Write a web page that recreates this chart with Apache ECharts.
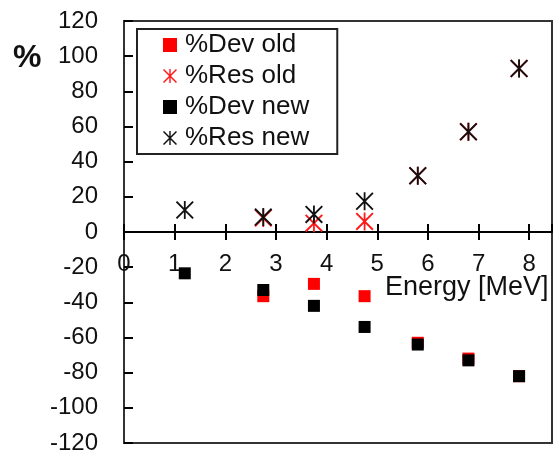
<!DOCTYPE html>
<html>
<head>
<meta charset="utf-8">
<script src="https://cdn.jsdelivr.net/npm/echarts@6/dist/echarts.min.js"></script>
<style>html,body{margin:0;padding:0;background:#fff}#c{width:553px;height:457px}</style>
</head>
<body>
<div id="c"></div>
<script>
const energies = [1.2, 2.75, 3.75, 4.75, 5.8, 6.8, 7.8];
const devOld = [null, -36.5, -29.5, -36.5, -63, -72, -82];
const resOld = [null, 8, 5, 6, 32, 57, 93];
const devNew = [-23.5, -33, -42, -54, -64, -73, -82];
const resNew = [12.5, 8.5, 10, 17.5, 32, 57, 93];
const seriesNames = ['%Dev old', '%Res old', '%Dev new', '%Res new'];
const xTitle = 'Energy [MeV]';
const yTitle = '%';

const star = 'path://M9,0L11,0L11,20L9,20Z M1.5,0L20,18.5L18.5,20L0,1.5Z M18.5,0L20,1.5L1.5,20L0,18.5Z';
const pts = arr => energies.map((e, i) => arr[i] == null ? null : [e, arr[i]]).filter(p => p);
const txt = '#111';
const font = 'Arial, "Liberation Sans", sans-serif';
const H = 457, gTop = 21, gBottom = 14;
const zeroShift = -Math.round((H - gTop - gBottom) / 2);

const chart = echarts.init(document.getElementById('c'), null, {renderer: 'canvas'});
chart.setOption({
  animation: false,
  backgroundColor: '#fff',
  grid: {left: 124, right: 1, top: gTop, bottom: gBottom, outerBoundsMode: 'none', containLabel: false,
         show: true, borderColor: '#333', borderWidth: 2},
  xAxis: [{
    type: 'value', min: 0, max: 8.45, interval: 1, position: 'bottom', offset: zeroShift,
    axisLine: {onZero: false, lineStyle: {color: '#000', width: 2}},
    axisTick: {show: true, inside: false, length: 8, lineStyle: {color: '#000', width: 2}},
    axisLabel: {fontSize: 24, color: txt, fontFamily: font, margin: 20, showMaxLabel: false},
    splitLine: {show: false}
  }, {
    type: 'value', min: 0, max: 8.45, interval: 1, position: 'top', offset: zeroShift,
    axisLine: {show: false, onZero: false},
    axisTick: {show: true, inside: false, length: 8, lineStyle: {color: '#000', width: 2}},
    axisLabel: {show: false},
    splitLine: {show: false}
  }],
  yAxis: {
    type: 'value', min: -120, max: 120, interval: 20,
    axisLine: {show: true, onZero: false, lineStyle: {color: '#333', width: 2}},
    axisTick: {show: true, inside: true, length: 9, lineStyle: {color: '#000', width: 2}},
    axisLabel: {fontSize: 24, color: txt, fontFamily: font, margin: 26},
    splitLine: {show: false}
  },
  legend: {
    orient: 'vertical', left: 137, top: 29,
    data: seriesNames,
    backgroundColor: '#fff', borderColor: '#222', borderWidth: 2,
    padding: [3, 28, 3, 26], itemGap: 5, itemWidth: 14, itemHeight: 14,
    textStyle: {fontSize: 26, color: txt, fontFamily: font, lineHeight: 24, padding: [0, 0, 0, 3]}
  },
  graphic: [
    {type: 'text', left: 13, top: 42, style: {text: yTitle, font: 'bold 32px ' + font, fill: txt}},
    {type: 'text', left: 385, top: 274, style: {text: xTitle, font: '27px ' + font, fill: txt}}
  ],
  series: [
    {name: seriesNames[0], type: 'scatter', data: pts(devOld), symbol: 'rect', symbolSize: 12, itemStyle: {color: '#ff0000', opacity: 1}},
    {name: seriesNames[1], type: 'scatter', data: pts(resOld), symbol: star, symbolSize: 18, itemStyle: {color: '#ff1a1a', opacity: 1}},
    {name: seriesNames[2], type: 'scatter', data: pts(devNew), symbol: 'rect', symbolSize: 12, itemStyle: {color: '#000', opacity: 1}},
    {name: seriesNames[3], type: 'scatter', data: pts(resNew), symbol: star, symbolSize: 18, itemStyle: {color: '#111', opacity: 1}}
  ]
});
</script>
</body>
</html>
